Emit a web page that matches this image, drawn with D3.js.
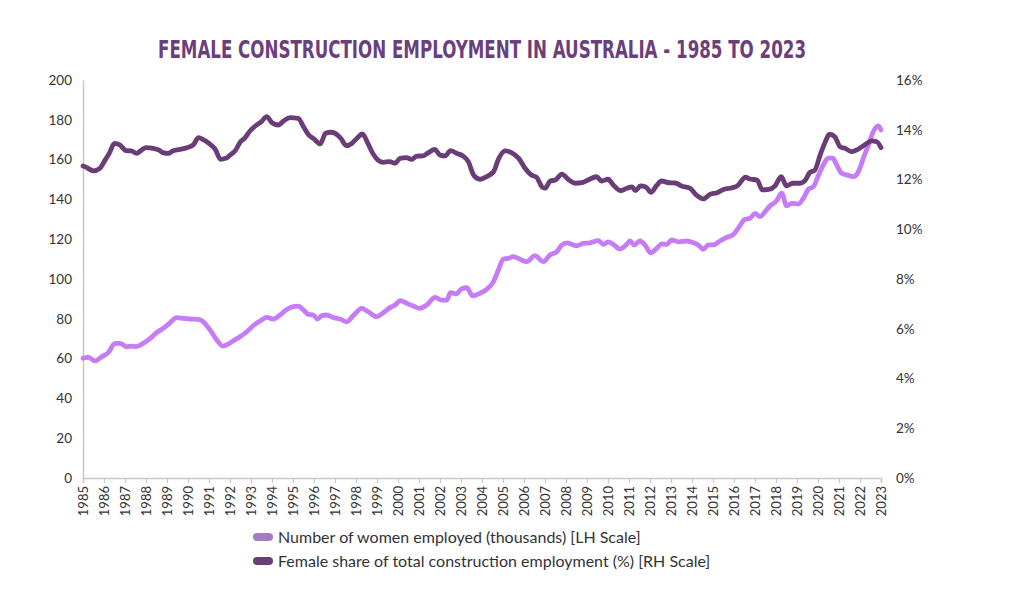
<!DOCTYPE html>
<html>
<head>
<meta charset="utf-8">
<script src="https://cdn.jsdelivr.net/npm/d3@7"></script>
<style>
  html, body { margin: 0; padding: 0; background: #ffffff; }
  svg { display: block; }
</style>
</head>
<body>
<svg id="chart" width="1024" height="596"></svg>
<script>
// ---------------- DATA ----------------
const titleText = "FEMALE CONSTRUCTION EMPLOYMENT IN AUSTRALIA - 1985 TO 2023";
const yearLabels = d3.range(1985, 2024);
const leftTicks = [0, 20, 40, 60, 80, 100, 120, 140, 160, 180, 200];
const rightTicks = [0, 2, 4, 6, 8, 10, 12, 14, 16];
const seriesNames = [
  "Number of women employed (thousands) [LH Scale]",
  "Female share of total construction employment (%) [RH Scale]"
];

// Female share of total construction employment (%) — time as decimal year
const shareTime = [1985.0,1985.1,1985.5,1985.8,1986.05,1986.25,1986.5,1986.75,1987.05,1987.3,1987.55,1987.8,1988.0,1988.35,1988.6,1988.8,1989.05,1989.3,1989.6,1989.95,1990.25,1990.5,1990.75,1991.0,1991.3,1991.55,1991.8,1992.0,1992.25,1992.5,1992.7,1992.95,1993.2,1993.5,1993.75,1994.0,1994.3,1994.55,1994.85,1995.25,1995.5,1995.75,1996.0,1996.3,1996.55,1996.8,1997.0,1997.25,1997.55,1997.8,1998.05,1998.3,1998.6,1998.8,1999.05,1999.3,1999.6,1999.85,2000.1,2000.4,2000.65,2000.9,2001.2,2001.45,2001.75,2002.0,2002.25,2002.5,2002.8,2003.1,2003.35,2003.6,2003.9,2004.2,2004.55,2004.8,2005.1,2005.4,2005.75,2006.05,2006.35,2006.6,2006.85,2007.0,2007.25,2007.5,2007.8,2008.1,2008.45,2008.75,2009.05,2009.45,2009.7,2010.0,2010.25,2010.6,2010.9,2011.15,2011.3,2011.55,2011.8,2012.05,2012.3,2012.55,2012.9,2013.2,2013.5,2013.9,2014.2,2014.55,2014.85,2015.2,2015.5,2015.8,2016.15,2016.55,2016.75,2017.1,2017.35,2017.65,2017.95,2018.25,2018.5,2018.8,2019.15,2019.4,2019.6,2019.85,2020.1,2020.35,2020.55,2020.8,2021.05,2021.3,2021.6,2021.9,2022.25,2022.55,2022.8,2023.0];
const shareValues = [12.54,12.51,12.35,12.45,12.78,13.05,13.45,13.39,13.16,13.15,13.05,13.19,13.28,13.25,13.19,13.08,13.05,13.16,13.21,13.28,13.39,13.68,13.59,13.45,13.21,12.81,12.85,12.98,13.16,13.52,13.66,13.95,14.15,14.33,14.53,14.28,14.19,14.35,14.49,14.46,14.12,13.79,13.63,13.43,13.86,13.90,13.86,13.68,13.36,13.45,13.66,13.83,13.39,13.05,12.78,12.69,12.72,12.65,12.85,12.88,12.81,12.94,12.95,13.08,13.21,12.98,12.95,13.16,13.05,12.94,12.72,12.18,12.01,12.11,12.31,12.85,13.15,13.08,12.85,12.45,12.18,12.09,11.71,11.65,11.94,11.98,12.22,12.01,11.85,11.87,11.98,12.11,11.94,12.01,11.78,11.55,11.65,11.70,11.55,11.74,11.70,11.48,11.74,11.94,11.87,11.86,11.74,11.65,11.38,11.22,11.40,11.47,11.60,11.65,11.74,12.09,12.02,11.98,11.58,11.60,11.74,12.11,11.74,11.85,11.85,11.98,12.27,12.38,12.98,13.52,13.82,13.72,13.32,13.25,13.12,13.21,13.41,13.55,13.52,13.28];

// Number of women employed (thousands) — time as decimal year
const womenTime = [1985.0,1985.25,1985.57,1985.9,1986.2,1986.52,1986.76,1987.08,1987.3,1987.55,1987.87,1988.2,1988.5,1988.82,1989.14,1989.46,1989.78,1990.1,1990.5,1990.73,1991.05,1991.37,1991.65,1991.92,1992.16,1992.48,1992.8,1993.1,1993.43,1993.75,1994.06,1994.38,1994.7,1995.0,1995.25,1995.5,1995.73,1995.97,1996.16,1996.37,1996.6,1996.92,1997.24,1997.55,1997.87,1998.27,1998.58,1998.98,1999.3,1999.62,1999.86,2000.1,2000.41,2000.73,2001.05,2001.37,2001.76,2002.08,2002.32,2002.5,2002.76,2003.03,2003.27,2003.56,2003.9,2004.22,2004.54,2004.78,2005.01,2005.25,2005.49,2005.81,2006.13,2006.52,2006.92,2007.24,2007.56,2007.8,2008.03,2008.5,2008.82,2009.14,2009.54,2009.78,2010.01,2010.25,2010.57,2010.89,2011.05,2011.24,2011.52,2011.76,2012.03,2012.32,2012.56,2012.79,2013.03,2013.35,2013.75,2014.06,2014.3,2014.54,2014.78,2015.02,2015.33,2015.65,2015.97,2016.2,2016.52,2016.76,2017.0,2017.24,2017.48,2017.71,2018.03,2018.27,2018.51,2018.75,2019.06,2019.3,2019.54,2019.78,2020.01,2020.25,2020.49,2020.7,2020.89,2021.13,2021.37,2021.68,2021.92,2022.16,2022.4,2022.63,2022.87,2023.0];
const womenValues = [60.2,60.6,58.9,61.0,63.0,67.7,67.7,66.0,66.3,66.0,67.7,70.2,73.0,75.2,78.0,80.6,80.2,79.9,79.7,78.5,74.4,69.3,66.3,67.3,69.0,71.0,73.5,76.5,78.9,80.7,79.9,81.9,84.7,86.1,86.4,84.4,82.2,81.9,79.9,81.6,81.9,80.6,79.9,78.5,81.6,85.2,83.6,81.1,83.1,85.6,86.9,89.1,87.8,86.4,85.3,86.9,90.8,89.4,89.4,93.1,92.5,95.0,95.6,91.5,92.8,94.8,98.6,104.5,109.9,110.4,111.2,109.9,108.7,111.7,108.7,112.1,113.7,117.1,118.2,116.7,117.9,118.2,119.3,117.4,118.7,117.4,115.1,117.4,119.1,117.1,119.1,117.1,113.2,115.4,117.6,117.4,119.6,118.7,119.1,118.2,117.1,114.9,117.1,117.1,119.1,120.9,122.4,125.5,130.0,130.5,133.0,131.3,133.8,136.7,139.3,143.1,136.7,138.0,137.7,140.5,145.1,146.4,151.8,157.3,160.7,160.7,157.3,153.1,152.3,151.4,153.9,160.7,167.3,174.0,176.9,174.9];

// ---------------- STYLE ----------------
const colLight = "#c57cf6";
const colDark = "#6b3d78";
const legendLight = "#a57cc0";
const legendDark = "#6b3d78";
const axisGray = "#c8c8c8";
const textCol = "#333333";
const fontFam = "Lato, 'Open Sans', sans-serif";

const svg = d3.select("#chart");
const plot = { left: 83, right: 881, top: 80, bottom: 478 };

const x = d3.scaleLinear().domain([1985, 2023]).range([plot.left, plot.right]);
const yL = d3.scaleLinear().domain([0, 200]).range([plot.bottom, plot.top]);
const yR = d3.scaleLinear().domain([0, 16]).range([plot.bottom, plot.top]);

// Title
svg.append("text")
  .attr("x", 482).attr("y", 58)
  .attr("text-anchor", "middle")
  .attr("fill", "#6b3f7c")
  .style("font-family", "'DejaVu Sans Condensed', 'DejaVu Sans', sans-serif")
  .style("font-stretch", "condensed")
  .style("font-weight", "bold")
  .style("font-size", "24px")
  .attr("textLength", 648)
  .attr("lengthAdjust", "spacingAndGlyphs")
  .text(titleText);

// Left axis
const gL = svg.append("g").attr("transform", `translate(${plot.left},0)`)
  .call(d3.axisLeft(yL).tickValues(leftTicks).tickSize(0).tickPadding(11));
gL.select(".domain").attr("stroke", axisGray).attr("stroke-width", 1.5);
gL.selectAll("text").attr("fill", textCol).style("font-family", fontFam).style("font-size", "13.5px");

// Right axis
const gR = svg.append("g").attr("transform", `translate(${plot.right},0)`)
  .call(d3.axisRight(yR).tickValues(rightTicks).tickSize(0).tickPadding(15).tickFormat(d => d + "%"));
gR.select(".domain").remove();
gR.selectAll("text").attr("fill", textCol).style("font-family", fontFam).style("font-size", "13.5px");

// Bottom axis
const gX = svg.append("g").attr("transform", `translate(0,${plot.bottom})`)
  .call(d3.axisBottom(x).tickValues(yearLabels).tickSize(5).tickFormat(d3.format("d")));
gX.select(".domain").attr("stroke", axisGray).attr("stroke-width", 1.5);
gX.selectAll(".tick line").attr("stroke", axisGray).attr("stroke-width", 1.2);
gX.selectAll("text")
  .attr("fill", textCol)
  .style("font-family", fontFam).style("font-size", "13px")
  .attr("text-anchor", "end")
  .attr("transform", "rotate(-90)")
  .attr("x", -8).attr("y", 0).attr("dy", "0.35em");

// Lines
const lineWomen = d3.line().x((d, i) => x(womenTime[i])).y(d => yL(d)).curve(d3.curveMonotoneX);
const lineShare = d3.line().x((d, i) => x(shareTime[i])).y(d => yR(d)).curve(d3.curveMonotoneX);

svg.append("path").datum(womenValues)
  .attr("d", lineWomen)
  .attr("fill", "none").attr("stroke", colLight)
  .attr("stroke-width", 4.8).attr("stroke-linejoin", "round").attr("stroke-linecap", "round");

svg.append("path").datum(shareValues)
  .attr("d", lineShare)
  .attr("fill", "none").attr("stroke", colDark)
  .attr("stroke-width", 4.8).attr("stroke-linejoin", "round").attr("stroke-linecap", "round");

// Legend
const legend = svg.append("g");
const legendColors = [legendLight, legendDark];
seriesNames.forEach((name, i) => {
  const yy = 537 + i * 24;
  legend.append("rect")
    .attr("x", 253).attr("y", yy - 4).attr("width", 20).attr("height", 8)
    .attr("rx", 4).attr("fill", legendColors[i]);
  legend.append("text")
    .attr("x", 278).attr("y", yy).attr("dy", "0.35em")
    .attr("fill", textCol)
    .style("font-family", fontFam).style("font-size", "16px")
    .text(name);
});
</script>
</body>
</html>
